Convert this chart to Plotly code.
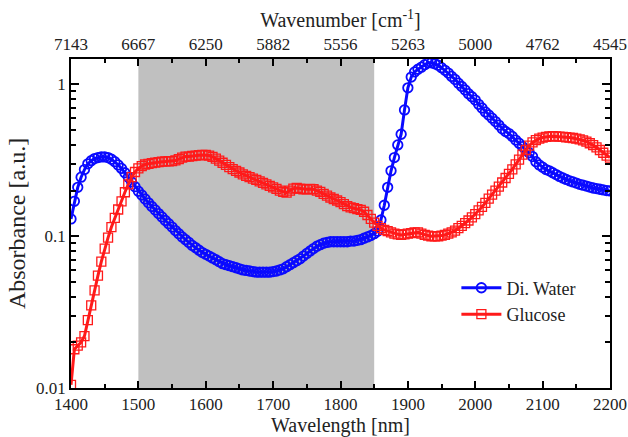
import plotly.graph_objects as go

# Wavelength grid (nm)
wavelength = list(range(1400, 2201, 5))

water = [
    0.13, 0.17, 0.21, 0.245, 0.275, 0.30, 0.315, 0.325, 0.33, 0.333,
    0.333, 0.33, 0.322, 0.31, 0.295, 0.28, 0.262, 0.245, 0.228, 0.212,
    0.198, 0.187, 0.176, 0.166, 0.157, 0.149, 0.141, 0.134, 0.127, 0.121,
    0.115, 0.109, 0.104, 0.099, 0.095, 0.091, 0.087, 0.084, 0.081, 0.078,
    0.076, 0.074, 0.072, 0.070, 0.068, 0.066, 0.065, 0.064, 0.063, 0.062,
    0.061, 0.060, 0.0595, 0.059, 0.0585, 0.058, 0.058, 0.058, 0.058, 0.058,
    0.0585, 0.059, 0.060, 0.061, 0.063, 0.065, 0.067, 0.069, 0.071, 0.074,
    0.077, 0.080, 0.083, 0.086, 0.088, 0.090, 0.091, 0.092, 0.092, 0.092,
    0.092, 0.092, 0.092, 0.093, 0.093, 0.094, 0.095, 0.097, 0.099, 0.101,
    0.104, 0.108, 0.128, 0.16, 0.21, 0.27, 0.33, 0.40, 0.47, 0.68,
    0.95, 1.12, 1.21, 1.26, 1.30, 1.35, 1.39, 1.39, 1.37, 1.34,
    1.29, 1.24, 1.19, 1.13, 1.08, 1.02, 0.97, 0.92, 0.87, 0.83,
    0.79, 0.74, 0.70, 0.66, 0.63, 0.60, 0.57, 0.54, 0.51, 0.49,
    0.475, 0.455, 0.43, 0.41, 0.39, 0.37, 0.355, 0.335, 0.31, 0.295,
    0.285, 0.275, 0.27, 0.262, 0.255, 0.248, 0.242, 0.237, 0.232, 0.228,
    0.224, 0.22, 0.217, 0.214, 0.211, 0.208, 0.206, 0.204, 0.202, 0.20,
    0.199,
]

glucose = [
    0.0105, 0.018, 0.019, 0.020, 0.022, 0.028, 0.035, 0.044, 0.055, 0.068,
    0.083, 0.098, 0.115, 0.132, 0.15, 0.17, 0.195, 0.22, 0.245, 0.265,
    0.28, 0.29, 0.297, 0.30, 0.303, 0.306, 0.308, 0.31, 0.311, 0.312,
    0.313, 0.316, 0.322, 0.33, 0.335, 0.335, 0.338, 0.34, 0.342, 0.343,
    0.343, 0.34, 0.333, 0.325, 0.315, 0.305, 0.295, 0.285, 0.277, 0.27,
    0.263, 0.256, 0.25, 0.245, 0.24, 0.235, 0.23, 0.225, 0.22, 0.215,
    0.21, 0.205, 0.20, 0.196, 0.194, 0.20, 0.206, 0.208, 0.206, 0.204,
    0.204, 0.205, 0.204, 0.20, 0.196, 0.19, 0.185, 0.18, 0.176, 0.172,
    0.168, 0.163, 0.158, 0.155, 0.153, 0.151, 0.149, 0.145, 0.138, 0.13,
    0.123, 0.117, 0.113, 0.11, 0.108, 0.106, 0.104, 0.103, 0.102, 0.103,
    0.104, 0.105, 0.106, 0.106, 0.104, 0.102, 0.101, 0.10, 0.10, 0.10,
    0.101, 0.102, 0.104, 0.106, 0.109, 0.113, 0.117, 0.122, 0.127, 0.133,
    0.14, 0.148, 0.156, 0.166, 0.177, 0.188, 0.20, 0.212, 0.226, 0.242,
    0.258, 0.276, 0.298, 0.32, 0.345, 0.37, 0.395, 0.415, 0.43, 0.44,
    0.447, 0.452, 0.455, 0.456, 0.455, 0.453, 0.451, 0.449, 0.447, 0.444,
    0.44, 0.435, 0.428, 0.42, 0.41, 0.398, 0.385, 0.37, 0.355, 0.34,
    0.33,
]

shade_range = [1500, 1850]
bottom_ticks = [1400, 1500, 1600, 1700, 1800, 1900, 2000, 2100, 2200]
top_tick_text = ["7143", "6667", "6250", "5882", "5556", "5263", "5000", "4762", "4545"]
y_ticks = [0.01, 0.1, 1]
y_tick_text = ["0.01", "0.1", "1"]
y_minor = [k * 0.01 for k in range(2, 10)] + [k * 0.1 for k in range(2, 10)]

FONT = "Liberation Serif, Times New Roman, Times, DejaVu Serif, serif"
BLUE = "#0a0aff"
RED = "#ff1a1a"
TXT = "#222222"

fig = go.Figure()

fig.add_trace(go.Scatter(
    x=wavelength, y=water, name="Di. Water", mode="lines+markers",
    line=dict(color=BLUE, width=3),
    marker=dict(symbol="circle-open", size=9.5, color=BLUE, line=dict(width=1.8, color=BLUE)),
))
fig.add_trace(go.Scatter(
    x=wavelength, y=glucose, name="Glucose", mode="lines+markers",
    line=dict(color=RED, width=3),
    marker=dict(symbol="square-open", size=9, color=RED, line=dict(width=1.3, color=RED)),
))
# invisible trace to activate the top axis
fig.add_trace(go.Scatter(
    x=[bottom_ticks[0], bottom_ticks[-1]], y=[0.05, 0.05], xaxis="x2",
    mode="markers", marker=dict(opacity=0), showlegend=False, hoverinfo="skip",
))

fig.add_shape(type="rect", xref="x", yref="paper", x0=shade_range[0], x1=shade_range[1],
              y0=0, y1=1, fillcolor="#c0c0c0", line=dict(width=0), layer="below")

axis_common = dict(
    showgrid=False, zeroline=False, showline=True, linecolor="black", linewidth=1.5,
    ticks="inside", tickcolor="black", tickwidth=1.5, automargin=False,
    tickfont=dict(family=FONT, size=17, color=TXT),
)
minor_x = dict(dtick=50, tick0=1400, ticks="inside", ticklen=4, tickcolor="black", tickwidth=1.5)

fig.update_layout(
    width=628, height=437,
    margin=dict(l=71, r=18, t=59, b=49),
    paper_bgcolor="white", plot_bgcolor="white",
    font=dict(family=FONT, color=TXT),
    xaxis=dict(
        **axis_common, range=[1400, 2200], tickvals=bottom_ticks, ticklen=7, minor=minor_x,
        title=dict(text="Wavelength [nm]", font=dict(family=FONT, size=20, color=TXT), standoff=2),
    ),
    xaxis2=dict(
        **axis_common, range=[1400, 2200], overlaying="x", side="top",
        tickvals=bottom_ticks, ticktext=top_tick_text, ticklen=7, minor=minor_x,
        title=dict(text="Wavenumber [cm<sup>-1</sup>]", font=dict(family=FONT, size=20, color=TXT), standoff=2),
    ),
    yaxis=dict(
        **axis_common, type="log", range=[-2, 0.168], tickvals=y_ticks, ticktext=y_tick_text,
        ticklen=8, mirror="ticks",
        minor=dict(tickvals=y_minor, ticks="inside", ticklen=5, tickcolor="black", tickwidth=1.5),
        title=dict(text="Absorbance [a.u.]", font=dict(family=FONT, size=24, color=TXT), standoff=4),
    ),
    legend=dict(
        x=0.715, y=0.36, xanchor="left", yanchor="top",
        bgcolor="rgba(0,0,0,0)", font=dict(family=FONT, size=18, color=TXT),
        tracegroupgap=0, itemsizing="trace", itemwidth=40,
    ),
    showlegend=True,
)

fig.write_html(
    "out.html",
    config={"displayModeBar": False},
    post_script="document.body.style.margin='0';document.body.style.overflow='hidden';",
)
